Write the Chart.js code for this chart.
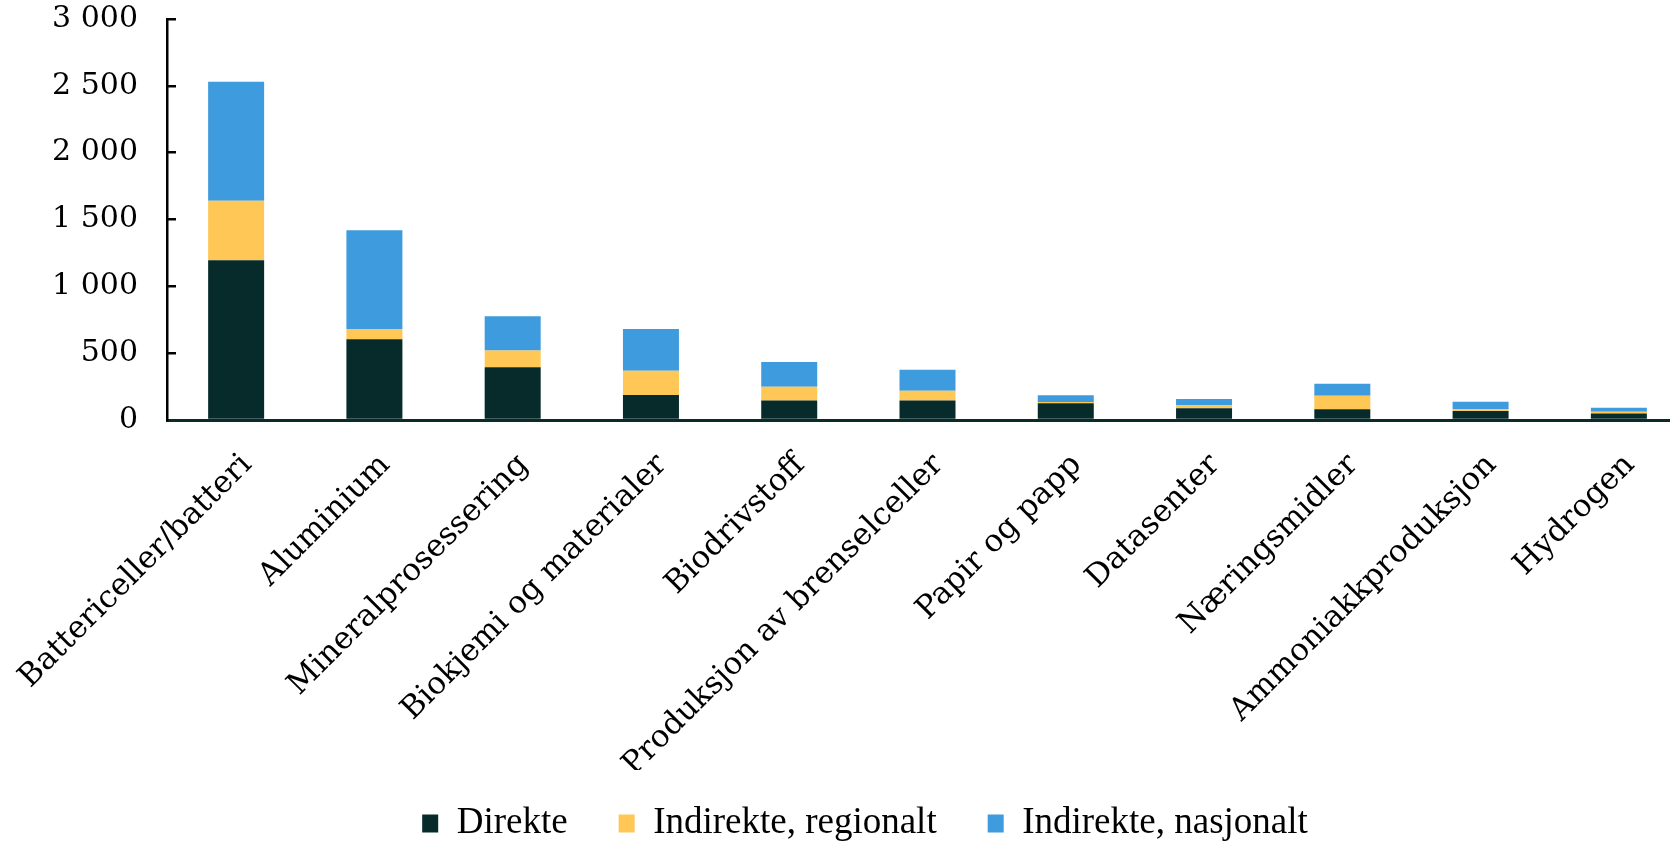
<!DOCTYPE html>
<html>
<head>
<meta charset="utf-8">
<script src="https://cdn.jsdelivr.net/npm/chart.js@4.4.1/dist/chart.umd.min.js"></script>
<style>
  html, body { margin: 0; padding: 0; background: #ffffff; overflow: hidden; }
  #wrap { width: 1690px; height: 845px; }
</style>
</head>
<body>
<div id="wrap"><canvas id="c" width="1690" height="845"></canvas></div>
<script>
const categories = ['Battericeller/batteri', 'Aluminium', 'Mineralprosessering', 'Biokjemi og materialer', 'Biodrivstoff', 'Produksjon av brenselceller', 'Papir og papp', 'Datasenter', 'Næringsmidler', 'Ammoniakkproduksjon', 'Hydrogen'];
const seriesNames = ['Direkte', 'Indirekte, regionalt', 'Indirekte, nasjonalt'];
const direkte = [1195, 605, 395, 187, 145, 145, 125, 88, 80, 68, 48];
const indirekteRegionalt = [445, 76, 125, 182, 104, 74, 10, 24, 102, 14, 14];
const indirekteNasjonalt = [890, 739, 256, 312, 185, 157, 50, 45, 90, 55, 30];
const yTickValues = [0, 500, 1000, 1500, 2000, 2500, 3000];
const yTickLabels = ['0', '500', '1 000', '1 500', '2 000', '2 500', '3 000'];

const colors = ['#072a2a', '#fec756', '#3e9bdd'];

const legendShift = {
  id: 'legendShift',
  afterLayout(chart) {
    if (chart.legend) { chart.legend.top -= 16; chart.legend.bottom -= 16; }
  }
};

new Chart(document.getElementById('c'), {
  type: 'bar',
  data: {
    labels: categories,
    datasets: [
      { label: seriesNames[0], data: direkte, backgroundColor: colors[0], borderWidth: 0 },
      { label: seriesNames[1], data: indirekteRegionalt, backgroundColor: colors[1], borderWidth: 0 },
      { label: seriesNames[2], data: indirekteNasjonalt, backgroundColor: colors[2], borderWidth: 0 }
    ]
  },
  plugins: [legendShift],
  options: {
    responsive: false,
    animation: false,
    layout: { padding: { left: 42, right: 2, top: 19, bottom: -23 } },
    datasets: { bar: { categoryPercentage: 1.0, barPercentage: 0.405 } },
    plugins: {
      tooltip: { enabled: false },
      legend: {
        position: 'bottom',
        labels: {
          font: { family: '"Liberation Serif", serif', size: 37 },
          color: '#000000',
          boxWidth: 16,
          boxHeight: 18,
          padding: 51
        }
      }
    },
    scales: {
      x: {
        stacked: true,
        grid: { display: false },
        border: { display: true, color: '#0b2b2b', width: 3 },
        ticks: {
          autoSkip: false,
          minRotation: 45,
          maxRotation: 45,
          padding: 19,
          labelOffset: 11,
          color: '#000000',
          font: { family: '"DejaVu Serif", serif', size: 31 }
        },
        afterFit: (s) => { s.height = 350; s.paddingLeft = 0; s.paddingRight = 0; }
      },
      y: {
        stacked: true,
        min: 0,
        max: 3000,
        afterBuildTicks: (s) => { s.ticks = yTickValues.map(v => ({ value: v })); },
        grid: { drawOnChartArea: false, drawTicks: true, tickLength: -9, color: '#000000', lineWidth: 2.5 },
        border: { display: true, color: '#000000', width: 2.5 },
        ticks: {
          padding: 38,
          color: '#000000',
          font: { family: '"DejaVu Serif", serif', size: 30 },
          callback: (v) => { const i = yTickValues.indexOf(v); return i >= 0 ? yTickLabels[i] : ''; }
        },
        afterFit: (s) => { s.width = 125; s.paddingTop = 0; s.paddingBottom = 0; }
      }
    }
  }
});
</script>
</body>
</html>
